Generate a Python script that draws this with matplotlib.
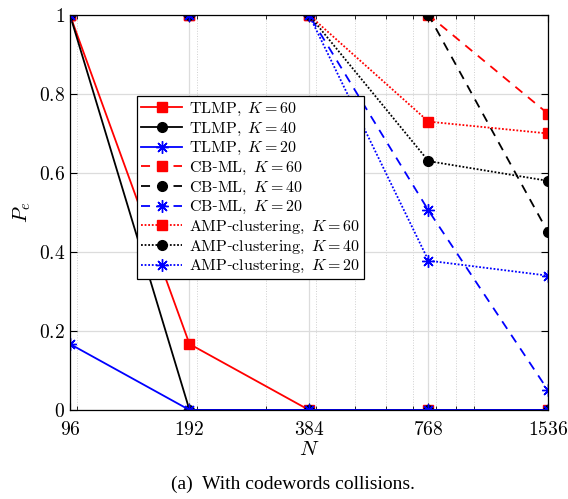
import matplotlib
matplotlib.use("Agg")
import matplotlib.pyplot as plt
from matplotlib.ticker import FixedLocator, NullFormatter

plt.rcParams['mathtext.fontset'] = 'cm'
plt.rcParams['font.family'] = ['DejaVu Serif']

N = [96, 192, 384, 768, 1536]
yticks = [0, 0.2, 0.4, 0.6, 0.8, 1]
minor_x = [100, 200, 300, 400, 500, 600, 700, 800, 900, 1000]

tlmp_60 = [1, 0.167, 0, 0, 0]
tlmp_40 = [1, 0, 0, 0, 0]
tlmp_20 = [0.167, 0, 0, 0, 0]
cbml_60 = [1, 1, 1, 1, 0.75]
cbml_40 = [1, 1, 1, 1, 0.45]
cbml_20 = [1, 1, 1, 0.505, 0.05]
amp_60 = [1, 1, 1, 0.73, 0.70]
amp_40 = [1, 1, 1, 0.63, 0.58]
amp_20 = [1, 1, 1, 0.378, 0.34]

star = (8, 2, 0)
series = [
    (tlmp_60, 'red', '-', 's', r'$\mathrm{TLMP},\ K=60$'),
    (tlmp_40, 'black', '-', 'o', r'$\mathrm{TLMP},\ K=40$'),
    (tlmp_20, 'blue', '-', star, r'$\mathrm{TLMP},\ K=20$'),
    (cbml_60, 'red', (0, (5, 4)), 's', r'$\mathrm{CB}$-$\mathrm{ML},\ K=60$'),
    (cbml_40, 'black', (0, (5, 4)), 'o', r'$\mathrm{CB}$-$\mathrm{ML},\ K=40$'),
    (cbml_20, 'blue', (0, (5, 4)), star, r'$\mathrm{CB}$-$\mathrm{ML},\ K=20$'),
    (amp_60, 'red', (0, (1, 1)), 's', r'$\mathrm{AMP}$-$\mathrm{clustering},\ K=60$'),
    (amp_40, 'black', (0, (1, 1)), 'o', r'$\mathrm{AMP}$-$\mathrm{clustering},\ K=40$'),
    (amp_20, 'blue', (0, (1, 1)), star, r'$\mathrm{AMP}$-$\mathrm{clustering},\ K=20$'),
]

fig = plt.figure(figsize=(5.68, 4.99), dpi=100)
ax = fig.add_axes([0.1232, 0.1784, 0.8416, 0.7916])

for vals, c, ls, m, lab in series:
    ms = 9 if m == star else 7
    ax.plot(N, vals, color=c, linestyle=ls, marker=m, markersize=ms,
            markerfacecolor=c, markeredgecolor=c, linewidth=1.3, label=lab)

ax.set_xscale('log')
ax.set_xlim(96, 1536)
ax.set_ylim(0, 1)
ax.xaxis.set_major_locator(FixedLocator(N))
ax.set_xticklabels([f'${n}$' for n in N])
ax.xaxis.set_minor_locator(FixedLocator(minor_x))
ax.xaxis.set_minor_formatter(NullFormatter())
ax.set_yticks(yticks)
ax.set_yticklabels(['$0$', '$0.2$', '$0.4$', '$0.6$', '$0.8$', '$1$'])
ax.tick_params(which='both', direction='in', top=True, right=True, labelsize=14)
ax.tick_params(which='major', length=5)
ax.tick_params(which='minor', length=3)
ax.tick_params(axis='x', which='major', pad=8)
ax.grid(True, which='major', color='#dcdcdc', linewidth=0.9)
ax.grid(True, which='minor', color='#d0d0d0', linestyle=':', linewidth=0.7)
ax.set_axisbelow(True)
for s in ax.spines.values():
    s.set_linewidth(0.9)

ax.set_xlabel('$N$', fontsize=15, labelpad=1)
ax.set_ylabel('$P_e$', fontsize=15, labelpad=4)

leg = ax.legend(loc='upper left', bbox_to_anchor=(0.14, 0.795), fontsize=11.5,
                frameon=True, fancybox=False, edgecolor='black', framealpha=1,
                handlelength=2.6, labelspacing=0.1, borderpad=0.25,
                handletextpad=0.4, borderaxespad=0)
leg.get_frame().set_linewidth(0.9)

fig.text(0.515, 0.02, '(a)  With codewords collisions.', ha='center',
         fontsize=14, family='Liberation Serif')

fig.savefig('out.png', dpi=100)
